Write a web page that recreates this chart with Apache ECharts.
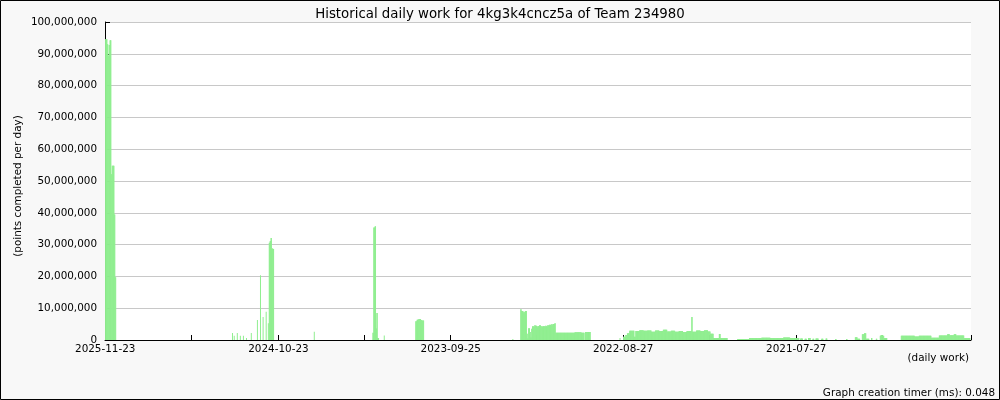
<!DOCTYPE html>
<html><head><meta charset="utf-8">
<script src="https://cdn.jsdelivr.net/npm/echarts@6/dist/echarts.min.js"></script>
<style>html,body{margin:0;padding:0;background:#f8f8f8}#c{width:1000px;height:400px}</style>
</head><body><div id="c"></div>
<script>
const chartTitle = 'Historical daily work for 4kg3k4cncz5a of Team 234980';
const firstDay = '2025-11-23';   // newest day, drawn at the left edge
const dayCount = 1980;           // days shown, newest to oldest
const tickLabels = ['2025-11-23', '2024-10-23', '2023-09-25', '2022-08-27', '2021-07-27'];

// runs: [first day index, last day index, millions of points per day] (day 0 = 2025-11-23)
const runs2025 = [
  [0,4,94.6],[5,6,93.0],[7,8,89.4],[9,10,92.8],[11,13,94.3],[14,15,52.1],[16,20,54.8],[21,22,39.5],[23,24,19.7]
];
const runs2024 = [
  [291,291,2.2],[295,295,1.3],[302,302,2.2],[309,309,1.3],[316,316,1.3],[323,323,0.6],[334,334,2.2],
  [348,348,6.3],[355,355,20.4],[361,361,7.2],[368,368,8.9],[373,373,5.3],
  [375,376,30.6],[377,378,31.1],[379,380,32.1],[381,383,28.8],[384,385,28.6],
  [478,478,2.6],
  [612,613,2.3],[614,616,35.4],[617,618,35.8],[619,620,3.6],[621,622,8.5],[623,625,0.65],[638,638,1.4]
];
const runs2023 = [
  [710,712,5.9],[713,716,6.4],[717,721,6.6],[722,723,6.3],[724,728,6.1],
  [932,932,0.3],
  [950,951,9.7],[952,954,9.1],[955,956,9.0],[957,958,8.4],[959,960,8.9],[961,963,9.1],
  [964,965,2.0],[966,967,0.5],[968,970,3.7],[971,972,2.5],[973,974,0.8],[975,976,3.5],[977,979,4.3],
  [980,981,4.2],[982,983,4.6],[984,986,4.5],[987,988,4.0],[989,990,4.4],[991,992,4.3],[993,995,4.6],
  [996,997,4.4],[998,999,4.0],[1000,1002,4.3],[1003,1004,4.4],[1005,1006,4.1],[1007,1008,4.5],
  [1009,1011,4.3],[1012,1013,4.7],[1014,1015,4.4],[1016,1018,4.8],[1019,1020,4.6],[1021,1022,5.0],
  [1023,1024,4.6],[1025,1027,5.0],[1028,1029,5.3],
  [1030,1073,2.3],[1074,1088,2.45],[1089,1095,2.3],[1098,1109,2.5]
];
const runs2022 = [
  [1177,1177,0.6],
  [1185,1189,1.0],[1190,1193,1.6],[1194,1198,2.1],[1199,1209,2.9],[1210,1212,1.0],
  [1213,1221,2.8],[1222,1230,3.1],[1231,1239,2.9],[1240,1248,3.0],[1249,1257,2.6],[1258,1266,3.0],
  [1267,1275,2.8],[1276,1284,3.2],[1285,1293,2.7],[1294,1302,2.9],[1303,1311,2.6],[1312,1320,2.8],
  [1321,1329,2.5],[1330,1340,2.8],[1341,1342,7.2],
  [1343,1351,2.6],[1352,1360,3.0],[1361,1369,2.8],[1370,1377,3.1],[1378,1383,2.7],
  [1384,1390,2.0],[1391,1403,0.6],[1404,1406,1.9],[1407,1422,0.6],
  [1446,1472,0.35],[1473,1500,0.6],[1501,1520,0.7],[1521,1550,0.6],[1551,1565,0.8],[1566,1586,0.6]
];
const runs2021 = [
  [1590,1594,0.5],[1600,1603,0.4],[1608,1612,0.6],[1618,1620,0.4],[1625,1630,0.5],[1638,1641,0.4],[1648,1650,0.5],
  [1670,1671,0.3],[1695,1696,0.3],
  [1715,1719,0.9],[1720,1725,0.4],[1731,1735,1.8],[1736,1739,2.1],[1740,1746,0.4],[1752,1753,0.6],
  [1763,1764,0.4],[1772,1773,1.3],[1774,1777,1.6],[1778,1780,1.3],[1781,1787,0.6],
  [1820,1850,1.3],[1851,1860,1.1],[1861,1888,1.3],[1889,1906,0.7],
  [1907,1925,1.4],[1926,1930,1.8],[1931,1940,1.5],[1941,1945,1.8],[1946,1963,1.4],[1964,1977,0.6]
];

// ---- build categories and values ----
const startMs = Date.parse(firstDay + 'T00:00:00Z');
const days = [];
for (let i = 0; i < dayCount; i++) days.push(new Date(startMs - i * 86400000).toISOString().slice(0, 10));
const values = new Array(dayCount).fill(0);
[runs2025, runs2024, runs2023, runs2022, runs2021].forEach(runs => runs.forEach(([a, b, v]) => {
  for (let i = a; i <= b; i++) values[i] = v * 1e6;
}));
const labelIdx = tickLabels.map(d => days.indexOf(d));
const tickIdx = new Set(labelIdx);
for (let k = 0; k < labelIdx.length; k++) {
  const next = k + 1 < labelIdx.length ? labelIdx[k + 1] : labelIdx[k] + (labelIdx[k] - labelIdx[k - 1]);
  tickIdx.add(Math.round((labelIdx[k] + next) / 2));
}
const labelSet = new Set(tickLabels);

const FONT = 'DejaVu Sans';
const chart = echarts.init(document.getElementById('c'), null, { renderer: 'canvas' });
chart.setOption({
  animation: false,
  backgroundColor: '#f8f8f8',
  title: {
    text: chartTitle, left: 'center', top: 3,
    textStyle: { fontFamily: FONT, fontSize: 13.33, fontWeight: 'normal', color: '#000' }
  },
  grid: { left: 105, right: 29, top: 22, bottom: 60, show: true, backgroundColor: '#ffffff', borderWidth: 0 },
  xAxis: {
    type: 'category', data: days, boundaryGap: true,
    axisLine: { lineStyle: { color: '#000', width: 1 } },
    axisTick: { show: true, inside: true, length: 5, lineStyle: { color: '#000' },
      interval: (i) => tickIdx.has(i) },
    axisLabel: { interval: (i, v) => labelSet.has(v), margin: 4, color: '#000',
      fontFamily: FONT, fontSize: 10.4 },
    splitLine: { show: false }
  },
  yAxis: {
    type: 'value', min: 0, max: 100000000, interval: 10000000,
    axisLine: { show: true, lineStyle: { color: '#000', width: 1 } },
    axisTick: { show: true, inside: true, length: 5, lineStyle: { color: '#000' } },
    axisLabel: { margin: 8, color: '#000', fontFamily: FONT, fontSize: 10.4,
      formatter: v => String(v).replace(/\B(?=(\d{3})+(?!\d))/g, ',') },
    splitLine: { show: true, lineStyle: { color: '#c8c8c8', width: 1 } }
  },
  series: [{
    type: 'bar', data: values, barWidth: 1,
    itemStyle: { color: '#90ee90' }, silent: true
  }],
  graphic: [
    { type: 'text', x: 18.5, y: 186, rotation: Math.PI / 2,
      style: { text: '(points completed per day)', fill: '#000', font: '10.4px "DejaVu Sans"',
        textAlign: 'center', textVerticalAlign: 'middle' } },
    { type: 'text', x: 969, y: 358,
      style: { text: '(daily work)', fill: '#000', font: '10.4px "DejaVu Sans"',
        textAlign: 'right', textVerticalAlign: 'middle' } },
    { type: 'text', x: 995, y: 393,
      style: { text: 'Graph creation timer (ms): 0.048', fill: '#000', font: '10.4px "DejaVu Sans"',
        textAlign: 'right', textVerticalAlign: 'middle' } },
    { type: 'rect', shape: { x: 0.5, y: 0.5, width: 999, height: 399 },
      style: { fill: 'none', stroke: '#000', lineWidth: 1 }, silent: true }
  ]
});
</script></body></html>
